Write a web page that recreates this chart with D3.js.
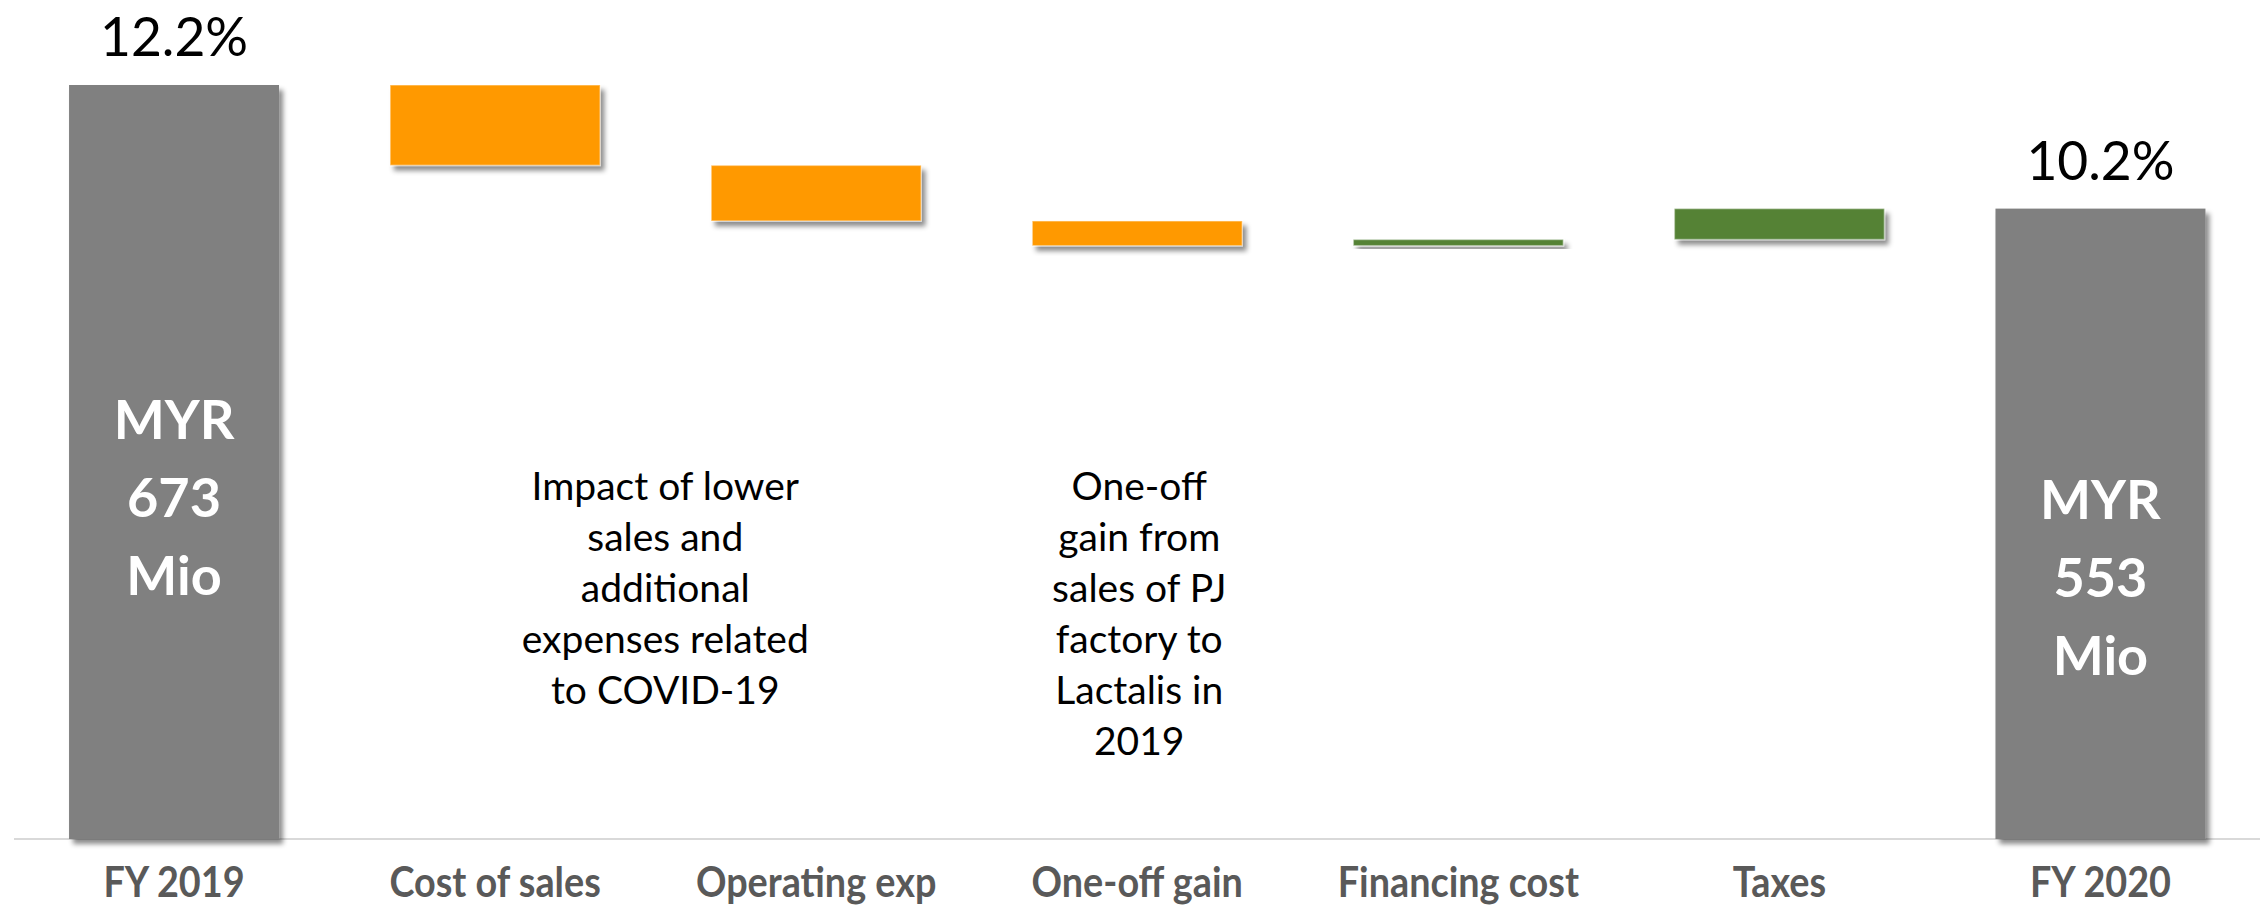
<!DOCTYPE html>
<html>
<head>
<meta charset="utf-8">
<script src="https://cdn.jsdelivr.net/npm/d3@7"></script>
<style>
  body { margin: 0; background: #fff; }
  svg { display: block; }
  text { font-family: Lato, "Open Sans", sans-serif; }
</style>
</head>
<body>
<script>
// EBIT margin bridge FY2019 -> FY2020 (values in % points)
var categories = ["FY 2019", "Cost of sales", "Operating exp", "One-off gain", "Financing cost", "Taxes", "FY 2020"];
var values = [12.2, -1.3, -0.9, -0.4, 0.1, 0.5, 10.2];
var isTotal = [true, false, false, false, false, false, true];
var amountsMio = [673, 553];
var noteCovid = ["Impact of lower", "sales and", "additional", "expenses related", "to COVID-19"];
var noteGain = ["One-off", "gain from", "sales of PJ", "factory to", "Lactalis in", "2019"];

window.onload = function(){
  var w = 2260;
  var h = 907;
  var margin = {top: 85, bottom: 68, left: 13.5, right: -1};
  var baseY = h - margin.bottom;

  var colors = {total: "#808080", down: "#FF9900", up: "#548235"};

  // build waterfall steps
  var running = 0;
  var steps = categories.map(function(c, i){
    var s, e;
    if (isTotal[i]) { s = 0; e = values[i]; }
    else { s = running; e = running + values[i]; }
    running = e;
    return {key: c, start: s, end: e, value: values[i], total: isTotal[i]};
  });

  var x = d3.scaleBand()
            .domain(categories)
            .range([margin.left, w - margin.right])
            .paddingInner(0.346)
            .paddingOuter(0.173);

  var y = d3.scaleLinear()
            .domain([0, d3.max(values)])
            .range([baseY, margin.top]);

  var svg = d3.select('body').append('svg')
              .attr('width', w)
              .attr('height', h);

  var defs = svg.append('defs');
  defs.append('filter')
      .attr('id', 'shadow')
      .attr('x', '-10%').attr('y', '-10%')
      .attr('width', '130%').attr('height', '150%')
    .append('feDropShadow')
      .attr('dx', 4).attr('dy', 5)
      .attr('stdDeviation', 2.5)
      .attr('flood-color', '#000')
      .attr('flood-opacity', 0.45);

  // baseline
  svg.append('line')
     .attr('x1', 14).attr('x2', w)
     .attr('y1', baseY).attr('y2', baseY)
     .attr('stroke', '#d9d9d9')
     .attr('stroke-width', 2);

  // bars
  svg.selectAll('.bar')
     .data(steps)
     .enter()
     .append('rect')
     .classed('bar', true)
     .attr('x', function(d){ return x(d.key); })
     .attr('y', function(d){ return y(Math.max(d.start, d.end)); })
     .attr('width', x.bandwidth())
     .attr('height', function(d){ return Math.abs(y(d.start) - y(d.end)); })
     .attr('fill', function(d){
       if (d.total) return colors.total;
       return d.value < 0 ? colors.down : colors.up;
     })
     .attr('stroke', function(d){ return d.total ? 'none' : 'rgba(255,255,255,0.4)'; })
     .attr('stroke-width', 1.5)
     .attr('filter', 'url(#shadow)');

  var totals = steps.filter(function(d){ return d.total; });

  // margin % above total bars
  svg.selectAll('.pct')
     .data(totals)
     .enter()
     .append('text')
     .classed('pct', true)
     .attr('transform', function(d){
       return 'translate(' + (x(d.key) + x.bandwidth()/2) + ',' + (y(d.end) - 29) + ') scale(0.97,1)';
     })
     .attr('text-anchor', 'middle')
     .attr('font-size', 55)
     .attr('fill', '#000')
     .text(function(d){ return d3.format('.1f')(d.end) + '%'; });

  // MYR amounts inside total bars
  var labelFrac = [0.573, 0.616];
  totals.forEach(function(d, i){
    var cx = x(d.key) + x.bandwidth()/2;
    var top = y(d.end);
    var mid = top + (baseY - top) * labelFrac[i];
    var lines = ['MYR', String(amountsMio[i]), 'Mio'];
    svg.append('g')
       .selectAll('text')
       .data(lines)
       .enter()
       .append('text')
       .attr('x', cx)
       .attr('y', function(l, j){ return mid + (j - 1) * 78; })
       .attr('text-anchor', 'middle')
       .attr('font-size', 54)
       .attr('font-weight', 700)
       .attr('fill', '#fff')
       .text(function(l){ return l; });
  });

  // notes
  function note(lines, cx, firstBase){
    svg.append('g')
       .selectAll('text')
       .data(lines)
       .enter()
       .append('text')
       .attr('x', cx)
       .attr('y', function(l, j){ return firstBase + j * 51; })
       .attr('text-anchor', 'middle')
       .attr('font-size', 39)
       .attr('fill', '#000')
       .text(function(l){ return l; });
  }
  note(noteCovid, x(categories[1]) + x.bandwidth()/2 + x.step()*0.53, 500);
  note(noteGain, x(categories[3]) + x.bandwidth()/2 + 2, 500);

  // category axis
  var axis = svg.append('g')
                .attr('transform', 'translate(0,' + baseY + ')')
                .call(d3.axisBottom(x).tickSize(0));
  axis.select('.domain').remove();
  axis.selectAll('text')
      .attr('y', 58)
      .attr('dy', null)
      .attr('transform', 'scale(0.9,1)')
      .attr('font-family', 'Lato, sans-serif')
      .attr('font-size', 42)
      .attr('font-weight', 700)
      .attr('fill', '#595959');
};
</script>
</body>
</html>
